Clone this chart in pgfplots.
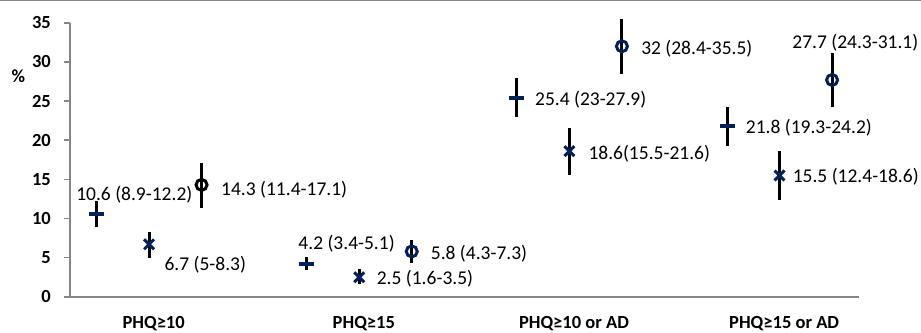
\documentclass[border=0pt]{standalone}
\usepackage{fontspec}
\setmainfont{Carlito}
\usepackage{pgfplots}
\pgfplotsset{compat=1.18}
\definecolor{navy}{RGB}{0,32,96}
\definecolor{axgray}{RGB}{134,134,134}
\newcommand{\lbl}{\fontsize{19.5}{22}\selectfont}
\newcommand{\tlbl}{\fontsize{18.5}{22}\selectfont\bfseries}
\begin{document}
\begin{tikzpicture}
\begin{axis}[
  name=ax,
  scale only axis, width=789pt, height=274pt,
  xmin=0.624, xmax=4.378, ymin=0, ymax=35,
  clip=false,
  axis x line*=bottom, axis y line*=left,
  axis line style={draw=axgray, line width=1.5pt},
  ytick={0,5,10,15,20,25,30,35},
  xtick={1.022,2.022,3.022,4.022},
  xticklabels={PHQ≥10, PHQ≥15, PHQ≥10 or AD, PHQ≥15 or AD},
  x tick style={draw=none},
  y tick style={draw=axgray, line width=1.5pt},
  tick align=outside, major tick length=6pt,
  /pgf/number format/assume math mode=true,
  yticklabel style={font=\tlbl, anchor=east, inner sep=0pt, xshift=-13pt},
  xticklabel style={font=\tlbl, anchor=base, yshift=-25.3pt},
  error bars/y dir=both, error bars/y explicit,
  error bars/error mark=none,
  error bars/error bar style={line width=3pt, black},
]
% plus (dash) series
\addplot[only marks, mark=-, mark size=7.5pt, mark options={draw=navy, line width=4.3pt}]
  table[x=x, y=y, y error plus=ep, y error minus=em] {
x y ep em
0.75 10.6 1.6 1.7
1.75 4.2 0.9 0.8
2.75 25.4 2.5 2.4
3.75 21.8 2.4 2.5
};
% x series
\addplot[only marks, mark=x, mark size=7pt, mark options={draw=navy, line width=3pt}]
  table[x=x, y=y, y error plus=ep, y error minus=em] {
x y ep em
1 6.7 1.6 1.7
2 2.5 1.0 0.9
3 18.6 3.0 3.1
4 15.5 3.1 3.1
};
% circle series (first point black)
\addplot[only marks, mark=o, mark size=5.5pt, mark options={draw=black, line width=3pt}]
  table[x=x, y=y, y error plus=ep, y error minus=em] {
x y ep em
1.25 14.3 2.8 2.9
};
\addplot[only marks, mark=o, mark size=5.5pt, mark options={draw=navy, line width=3pt}]
  table[x=x, y=y, y error plus=ep, y error minus=em] {
x y ep em
2.25 5.8 1.5 1.5
3.25 32 3.5 3.6
4.25 27.7 3.4 3.4
};
% data labels
\node[anchor=base west, inner sep=0pt, font=\lbl] at (axis cs:0.653,12.35) {10.6 (8.9-12.2)};
\node[anchor=base west, inner sep=0pt, font=\lbl] at (axis cs:1.3425,12.99) {14.3 (11.4-17.1)};
\node[anchor=base west, inner sep=0pt, font=\lbl] at (axis cs:1.073,3.32) {6.7 (5-8.3)};
\node[anchor=base west, inner sep=0pt, font=\lbl] at (axis cs:1.710,6.05) {4.2 (3.4-5.1)};
\node[anchor=base west, inner sep=0pt, font=\lbl] at (axis cs:2.083,1.62) {2.5 (1.6-3.5)};
\node[anchor=base west, inner sep=0pt, font=\lbl] at (axis cs:2.340,4.81) {5.8 (4.3-7.3)};
\node[anchor=base west, inner sep=0pt, font=\lbl] at (axis cs:3.341,31.0) {32 (28.4-35.5)};
\node[anchor=base west, inner sep=0pt, font=\lbl] at (axis cs:2.836,24.44) {25.4 (23-27.9)};
\node[anchor=base west, inner sep=0pt, font=\lbl] at (axis cs:3.090,17.59) {18.6(15.5-21.6)};
\node[anchor=base west, inner sep=0pt, font=\lbl] at (axis cs:3.839,20.87) {21.8 (19.3-24.2)};
\node[anchor=base west, inner sep=0pt, font=\lbl] at (axis cs:4.062,14.61) {15.5 (12.4-18.6)};
\node[anchor=base west, inner sep=0pt, font=\lbl] at (axis cs:4.060,31.72) {27.7 (24.3-31.1)};
\node[font=\tlbl] at (axis cs:0.624,28.19) [xshift=-51.7pt] {\%};
\end{axis}
\pgfresetboundingbox
\useasboundingbox ([xshift=-70pt,yshift=-35.3pt]ax.south west) rectangle ([xshift=62pt,yshift=22.8pt]ax.north east);
\draw[axgray, line width=1pt] ([xshift=-70pt,yshift=22.3pt]ax.north west) -- ([xshift=62pt,yshift=22.3pt]ax.north east);
\end{tikzpicture}
\end{document}
